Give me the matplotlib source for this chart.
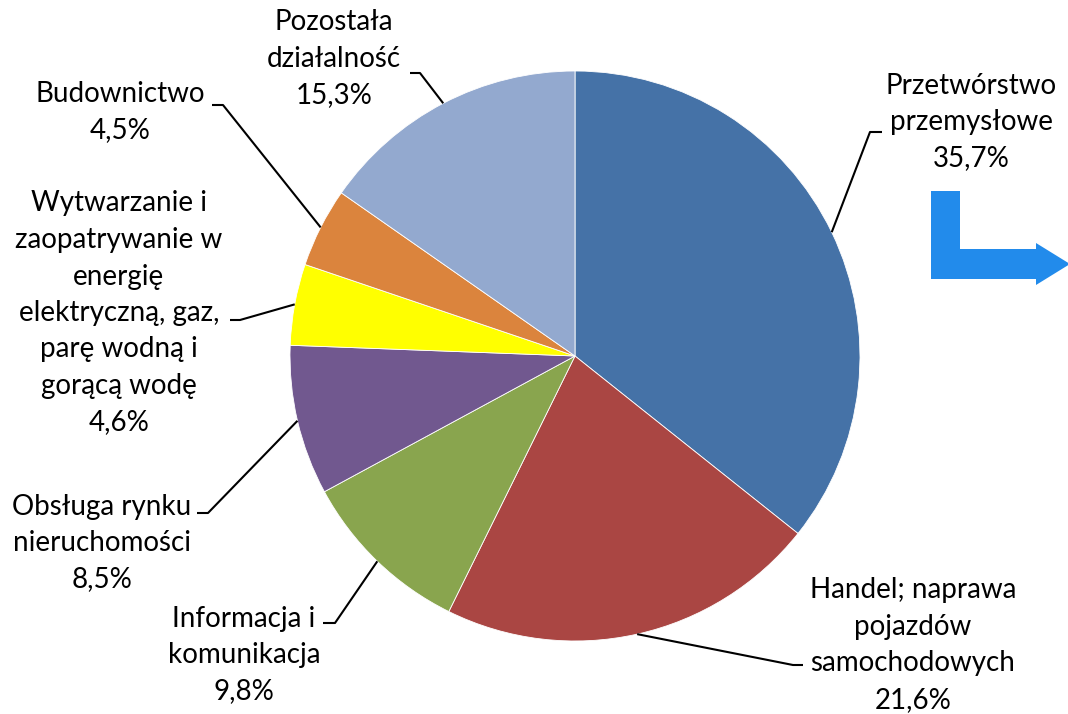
import numpy as np
import matplotlib
matplotlib.use("Agg")
import matplotlib.pyplot as plt
from matplotlib.patches import Polygon

W, H = 1068, 714

names = [
    "Przetwórstwo\nprzemysłowe",
    "Handel; naprawa\npojazdów\nsamochodowych",
    "Informacja i\nkomunikacja",
    "Obsługa rynku\nnieruchomości",
    "Wytwarzanie i\nzaopatrywanie w\nenergię\nelektryczną, gaz,\nparę wodną i\ngorącą wodę",
    "Budownictwo",
    "Pozostała\ndziałalność",
]
shares = [35.7, 21.6, 9.8, 8.5, 4.6, 4.5, 15.3]
colors = ["#4572A7", "#AA4643", "#89A54E", "#71588F", "#FFFF00", "#DB843D", "#93A9CF"]

# layout in pixel coords (y measured from top)
label_pos = [(971, 122), (913, 645), (244, 655), (102, 543), (119, 313), (120, 112), (334, 59)]
elbows = [((870, 132), (882, 132)), ((793, 665), (803, 665)), ((335, 623), (323, 623)),
          ((208, 513), (197, 513)), ((240, 320), (230, 320)), ((223, 105), (212, 105)),
          ((420, 73), (410, 73))]
cx, cy, R = 575, 356, 285

plt.rcParams["font.family"] = ["Lato", "DejaVu Sans"]

fig = plt.figure(figsize=(W / 100, H / 100), dpi=100)
ax = fig.add_axes([0, 0, 1, 1])

def Y(py):
    return H - py

wedges, _ = ax.pie(shares, colors=colors, startangle=90, counterclock=False,
                   center=(cx, Y(cy)), radius=R, frame=True,
                   wedgeprops=dict(linewidth=0.6, edgecolor="white"))

for w, name, v, (lx, ly), (elb, end) in zip(wedges, names, shares, label_pos, elbows):
    mid = np.deg2rad((w.theta1 + w.theta2) / 2)
    sx = cx + R * np.cos(mid)
    sy = Y(cy) + R * np.sin(mid)
    ax.plot([sx, elb[0], end[0]], [sy, Y(elb[1]), Y(end[1])], color="black", lw=1.5,
            solid_capstyle="butt", zorder=3)
    txt = name + "\n" + f"{v:.1f}%".replace(".", ",")
    ax.text(lx, Y(ly), txt, ha="center", va="center", multialignment="center",
            fontsize=20, linespacing=1.5, color="black")

# blue bent arrow on the right
arrow = [(931, 191), (960, 191), (960, 249), (1036, 249), (1036, 243), (1070, 264),
         (1036, 285), (1036, 279), (931, 279)]
ax.add_patch(Polygon([(x, Y(y)) for x, y in arrow], closed=True, color="#228BEB", lw=0))

ax.set_xlim(0, W)
ax.set_ylim(0, H)
ax.set_aspect("equal")
ax.axis("off")

fig.savefig("out.png", dpi=100)
